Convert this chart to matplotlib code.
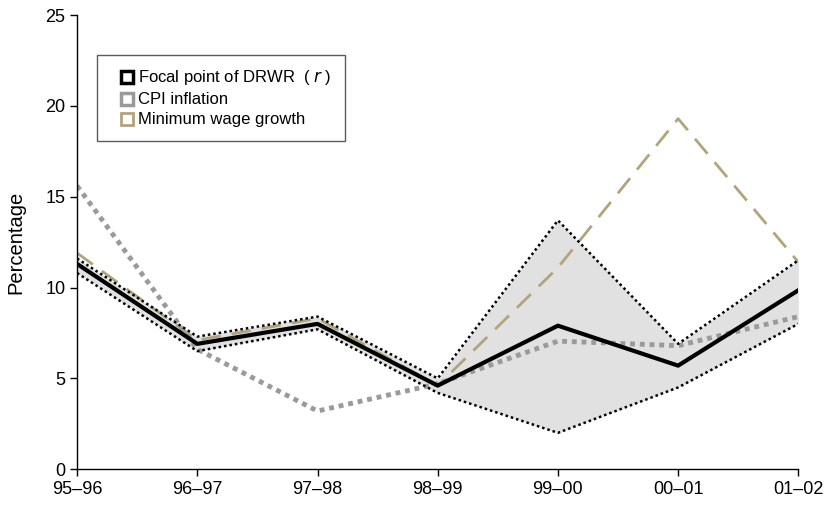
import matplotlib
matplotlib.use("Agg")
import matplotlib.pyplot as plt
from matplotlib.lines import Line2D

plt.rcParams['font.family'] = ['Liberation Sans', 'DejaVu Sans']

# --- data ---
periods = ['95–96', '96–97', '97–98', '98–99', '99–00', '00–01', '01–02']
focal = [11.3, 6.9, 8.0, 4.6, 7.9, 5.7, 9.85]
focal_upper = [11.6, 7.3, 8.4, 5.0, 13.7, 6.9, 11.5]
focal_lower = [10.8, 6.5, 7.7, 4.2, 2.0, 4.5, 8.0]
cpi = [15.6, 6.6, 3.2, 4.7, 7.05, 6.8, 8.4]
min_wage = [11.9, 7.1, 8.3, 4.6, 11.1, 19.3, 11.4]

wage_color = '#b1a47c'
cpi_color = '#9a9a9a'

fig = plt.figure(figsize=(8.29, 5.05), dpi=100)
ax = fig.add_axes([0.093, 0.071, 0.870, 0.899])

x = list(range(len(periods)))

ax.fill_between(x, focal_lower, focal_upper, color='#e1e1e1', linewidth=0, zorder=1)
ax.plot(x, focal_upper, color='black', linestyle=(0, (1, 1.2)), linewidth=1.8, zorder=3)
ax.plot(x, focal_lower, color='black', linestyle=(0, (1, 1.2)), linewidth=1.8, zorder=3)
ax.plot(x, min_wage, color=wage_color, linestyle=(0, (7, 4)), linewidth=2, zorder=2)
ax.plot(x, cpi, color=cpi_color, linestyle=(0, (1, 1)), linewidth=3.5, zorder=2)
ax.plot(x, focal, color='black', linewidth=3, zorder=4)

ax.set_xlim(0, 6)
ax.set_ylim(0, 25)
ax.set_xticks(x)
ax.set_xticklabels(periods)
ax.set_yticks([0, 5, 10, 15, 20, 25])
ax.tick_params(axis='both', labelsize=13, direction='out', length=5, width=1, colors='black')
ax.set_ylabel('Percentage', fontsize=14.5, labelpad=14)

for side in ['top', 'right']:
    ax.spines[side].set_visible(False)
for side in ['left', 'bottom']:
    ax.spines[side].set_linewidth(1)

handles = [
    Line2D([], [], linestyle='none', marker='s', markersize=9, markerfacecolor='white',
           markeredgecolor='black', markeredgewidth=2.5),
    Line2D([], [], linestyle='none', marker='s', markersize=9, markerfacecolor='white',
           markeredgecolor=cpi_color, markeredgewidth=2.5),
    Line2D([], [], linestyle='none', marker='s', markersize=9, markerfacecolor='white',
           markeredgecolor=wage_color, markeredgewidth=2),
]
labels = ['Focal point of DRWR  ( $r$ )', 'CPI inflation', 'Minimum wage growth']
leg = ax.legend(handles, labels, loc='upper left', bbox_to_anchor=(0.027, 0.912),
                fontsize=12, frameon=True, fancybox=False, handlelength=2.0,
                handletextpad=-0.3, borderpad=0.8, labelspacing=0.3, borderaxespad=0)
leg.get_frame().set_edgecolor('#333333')
leg.get_frame().set_linewidth(1)

fig.savefig('out.png', dpi=100)
